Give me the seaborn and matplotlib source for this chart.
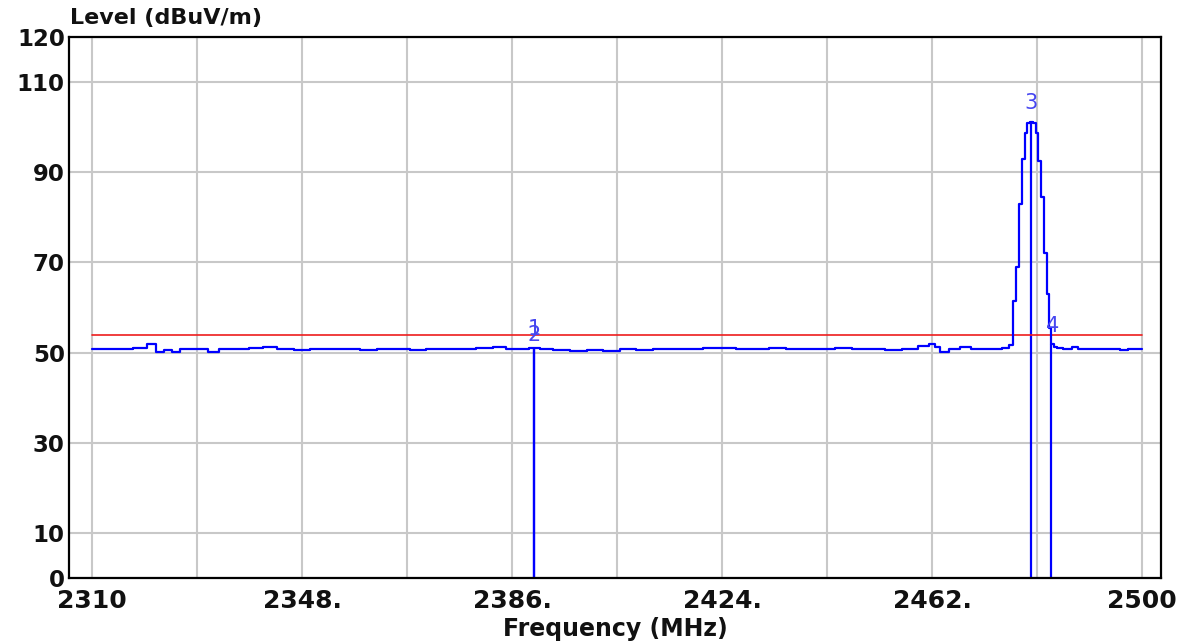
"""
Radiated emission scan 2310-2500 MHz: level trace, limit line and markers.
"""

import matplotlib
matplotlib.use("Agg")
import matplotlib.pyplot as plt
import seaborn as sns

# Trace (MHz / dBuV/m)
freq_mhz = [
    2310, 2313, 2316, 2319, 2321, 2322, 2324, 2325, 2327, 2330,
    2332, 2334, 2337, 2340, 2342, 2345, 2348, 2351, 2354, 2357,
    2360, 2363, 2366, 2369, 2372, 2375, 2378, 2381, 2384, 2386,
    2388, 2390, 2392, 2395, 2398, 2401, 2404, 2407, 2410, 2413,
    2416, 2419, 2422, 2425, 2428, 2431, 2434, 2437, 2440, 2443,
    2446, 2449, 2452, 2455, 2458, 2461, 2462, 2463, 2464, 2466,
    2468, 2470, 2472, 2474, 2475.5, 2476.3,
    2476.9, 2477.5, 2478.0, 2478.5, 2479.0, 2479.5, 2480.0, 2480.5,
    2481.0, 2481.5, 2482.0, 2482.5, 2483.0, 2483.4, 2483.8,
    2484.3, 2485, 2486.5, 2488, 2489, 2492, 2495, 2497, 2498, 2500,
]
level_dbuv = [
    50.8, 50.9, 50.8, 51.0, 51.9, 50.2, 50.5, 50.1, 50.8, 50.7,
    50.2, 50.8, 50.9, 51.0, 51.2, 50.8, 50.6, 50.9, 50.7, 50.8,
    50.5, 50.9, 50.8, 50.6, 50.8, 50.9, 50.7, 51.0, 51.2, 50.9,
    50.8, 51.0, 50.7, 50.6, 50.3, 50.6, 50.4, 50.7, 50.5, 50.8,
    50.9, 50.8, 51.0, 51.1, 50.9, 50.8, 51.0, 50.9, 50.7, 50.9,
    51.0, 50.8, 50.9, 50.6, 50.8, 51.5, 51.8, 51.2, 50.1, 50.9,
    51.2, 50.7, 50.8, 50.7, 51.0, 51.6,
    61.5, 69.0, 83.0, 93.0, 98.7, 101.0, 101.2, 101.0,
    98.7, 92.5, 84.5, 72.0, 63.0, 55.5, 52.0,
    51.3, 51.1, 50.7, 51.2, 50.8, 50.7, 50.8, 50.5, 50.8, 50.9,
]

# Limit line
limit_freq = [2310, 2500]
limit_level = [54, 54]

# Markers
marker_names = ["1", "2", "3", "4"]
marker_freq = [2390, 2390, 2480, 2483.5]
marker_level = [51.0, 51.0, 101.2, 52.0]

# Axes ticks
x_ticks = [2310, 2329, 2348, 2367, 2386, 2405, 2424, 2443, 2462, 2481, 2500]
x_tick_labels = ["2310", "", "2348.", "", "2386.", "", "2424.", "", "2462.", "", "2500"]
y_ticks = [0, 10, 30, 50, 70, 90, 110, 120]

BLUE = "#0000ff"
RED = "#ee1c1c"
MARK_TXT = "#4646f0"

sns.set_style("whitegrid", {"grid.color": "#c8c8c8", "axes.edgecolor": "black"})
plt.rcParams["font.family"] = ["DejaVu Sans"]

fig = plt.figure(figsize=(11.91, 6.41), dpi=100)
ax = fig.add_axes([69 / 1191, 1 - 578 / 641, (1161 - 69) / 1191, (578 - 37) / 641])

# marker stems (under the trace)
for f, lv in zip(marker_freq, marker_level):
    ax.vlines(f, 0, lv, color=BLUE, linewidth=1.6, zorder=2)

sns.lineplot(x=limit_freq, y=limit_level, color=RED, linewidth=1.2, ax=ax, zorder=3)
sns.lineplot(x=freq_mhz, y=level_dbuv, color=BLUE, linewidth=1.6,
             drawstyle="steps-mid", estimator=None, ax=ax, zorder=4)

# marker numbers sit just above the trace (1 and 2 share a frequency)
label_offset = [4.3, 3.0, 4.1, 3.9]
label_dx = [0.0, 0.0, 0.0, 0.3]
for name, f, lv, dy, dx in zip(marker_names, marker_freq, marker_level, label_offset, label_dx):
    ax.text(f + dx, lv + dy, name, color=MARK_TXT, fontsize=15,
            ha="center", va="center", zorder=5)

ax.set_xlim(2305.84, 2503.44)
ax.set_ylim(0, 120)
ax.set_xticks(x_ticks)
ax.set_xticklabels(x_tick_labels)
ax.set_yticks(y_ticks)
ax.grid(True, linewidth=1.5, color="#c8c8c8")
ax.tick_params(axis="x", length=0, pad=8, labelsize=18)
ax.tick_params(axis="y", length=0, pad=3, labelsize=16.5)
for lab in ax.get_xticklabels() + ax.get_yticklabels():
    lab.set_fontweight("bold")
    lab.set_color("#111111")
for sp in ax.spines.values():
    sp.set_linewidth(1.6)
    sp.set_color("black")

ax.set_xlabel("Frequency (MHz)", fontsize=17, fontweight="bold", labelpad=3, color="#111111")
ax.set_ylabel("")
fig.text(70 / 1191, 1 - 18 / 641, "Level (dBuV/m)", fontsize=16, fontweight="bold",
         ha="left", va="center", color="#111111")

plt.savefig("out.png", dpi=100)
plt.close()
